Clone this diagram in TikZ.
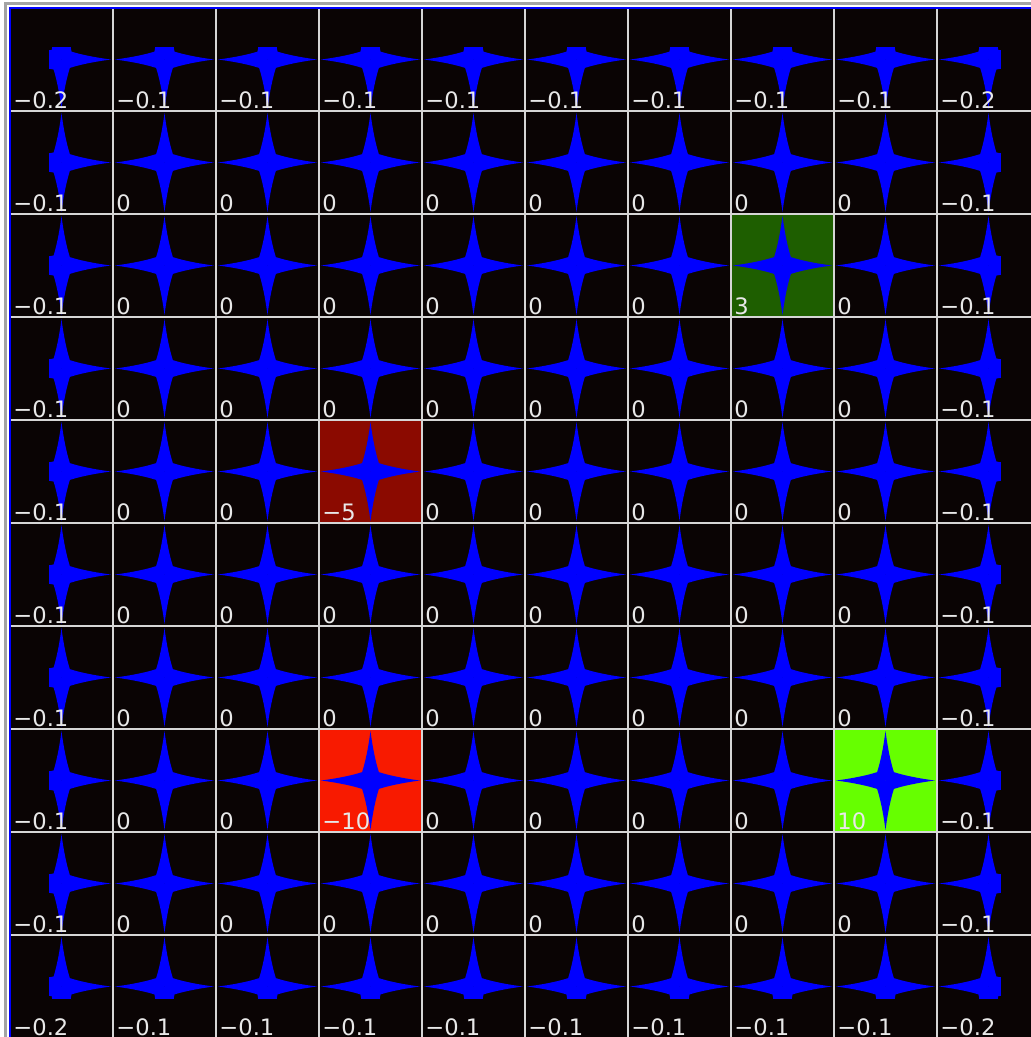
\documentclass[tikz,border=0pt]{standalone}
\usepackage{fontspec}
\setmainfont{DejaVu Sans}
\definecolor{gwbg}{HTML}{0A0404}
\definecolor{gwblue}{HTML}{0000FF}
\definecolor{gwline}{HTML}{D6D6D6}
\definecolor{gwframe}{HTML}{A4A4A4}
\definecolor{gwtext}{HTML}{E8E8E8}
\definecolor{pitdark}{HTML}{8B0A00}
\definecolor{pitred}{HTML}{F81A00}
\definecolor{goaldark}{HTML}{1E5E00}
\definecolor{goalgreen}{HTML}{66FF00}
\tikzset{
  gridline/.style={draw=gwline, line width=1.1pt},
  borderline/.style={draw=gwblue, line width=1.5pt},
  frameline/.style={draw=gwframe, line width=1.7pt},
  valuelabel/.style={anchor=base west, inner sep=0pt, text=gwtext,
                     font=\fontsize{12.5}{14}\selectfont},
  arm/.pic={\ifnum#1=1\relax
      \fill[gwblue] (0,0.11) .. controls (0.1,0.07) and (0.25,0.03) .. (0.48,0)
                    .. controls (0.25,-0.03) and (0.1,-0.07) .. (0,-0.11) -- cycle;
    \else
      \fill[gwblue] (0,0.11) -- (0.12,0.09) -- (0.12,-0.09) -- (0,-0.11) -- cycle;
    \fi}}
\begin{document}
\begin{tikzpicture}[x=2cm, y=2cm]
  \useasboundingbox (-0.097,0.01) rectangle (9.903,10.078);
  \fill[white] (-0.097,0.01) rectangle (9.903,10.078);
  \fill[gwbg] (0,0) rectangle (10,10);
  \fill[goaldark] (7,7) rectangle (8,8);
  \fill[pitdark] (3,5) rectangle (4,6);
  \fill[pitred] (3,2) rectangle (4,3);
  \fill[goalgreen] (8,2) rectangle (9,3);
  \foreach \r in {0,...,9} {
    \foreach \c in {0,...,9} {
      \pgfmathtruncatemacro{\fu}{\r>0}
      \pgfmathtruncatemacro{\fd}{\r<9}
      \pgfmathtruncatemacro{\fl}{\c>0}
      \pgfmathtruncatemacro{\fr}{\c<9}
      \coordinate (s-\r-\c) at (\c+0.5, 9.5-\r);
      \pic at (s-\r-\c) {arm=\fr};
      \pic[rotate=90] at (s-\r-\c) {arm=\fu};
      \pic[rotate=180] at (s-\r-\c) {arm=\fl};
      \pic[rotate=270] at (s-\r-\c) {arm=\fd};
    }
  }
  \foreach \k in {1,...,9} {
    \draw[gridline] (\k,0) -- (\k,10);
    \draw[gridline] (0,\k) -- (10,\k);
  }
  \draw[frameline] (-0.045,0) -- (-0.045,10.04) -- (10,10.04);
  \draw[borderline] (0,0) -- (0,10) -- (10,10);
  \foreach \vals [count=\r from 0] in {
      {−0.2,−0.1,−0.1,−0.1,−0.1,−0.1,−0.1,−0.1,−0.1,−0.2},
      {−0.1,0,0,0,0,0,0,0,0,−0.1},
      {−0.1,0,0,0,0,0,0,3,0,−0.1},
      {−0.1,0,0,0,0,0,0,0,0,−0.1},
      {−0.1,0,0,−5,0,0,0,0,0,−0.1},
      {−0.1,0,0,0,0,0,0,0,0,−0.1},
      {−0.1,0,0,0,0,0,0,0,0,−0.1},
      {−0.1,0,0,−10,0,0,0,0,10,−0.1},
      {−0.1,0,0,0,0,0,0,0,0,−0.1},
      {−0.2,−0.1,−0.1,−0.1,−0.1,−0.1,−0.1,−0.1,−0.1,−0.2}} {
    \foreach \v [count=\c from 0] in \vals {
      \node[valuelabel] (val-\r-\c) at (\c+0.03, 9.02-\r) {\v};
    }
  }
\end{tikzpicture}
\end{document}
